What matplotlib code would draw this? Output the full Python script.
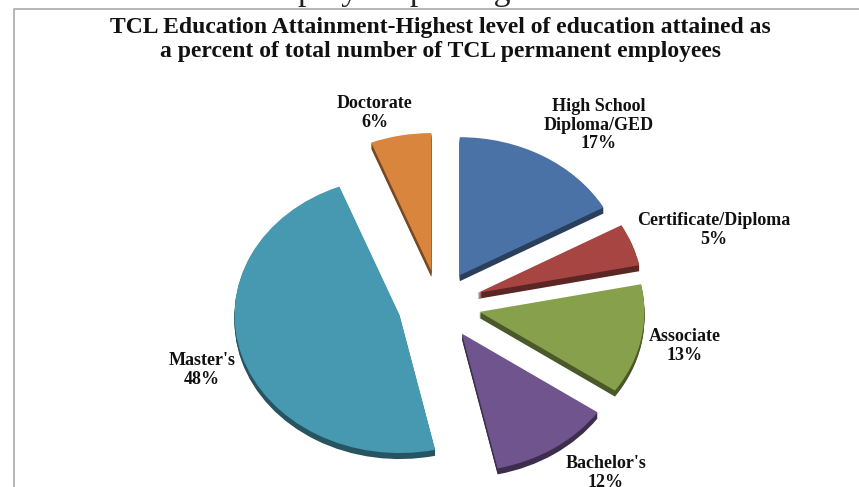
import numpy as np
import matplotlib
matplotlib.use('Agg')
import matplotlib.pyplot as plt
from matplotlib.colors import to_rgb

categories = ['High School\nDiploma/GED', 'Certificate/Diploma', 'Associate',
              "Bachelor's", "Master's", 'Doctorate']
percents = [17, 5, 13, 12, 48, 6]
face_colors = ['#4a72a6', '#a64542', '#87a04c', '#70548e', '#4798b1', '#d9853e']
title = ('TCL Education Attainment-Highest level of education attained as\n'
         'a percent of total number of TCL permanent employees')
header = 'and the number of employees per degree.'

W, H = 859, 487
CX, CY = 439, 305
RX, RY = 165, 138
EXPLODE = 0.25
DEPTH = 6

plt.rcParams['font.family'] = ['Liberation Serif', 'DejaVu Serif']

fig = plt.figure(figsize=(W / 100, H / 100), dpi=100)
ax = fig.add_axes([0, 0, 1, 1])


def shade(color, k):
    return tuple(c * k for c in to_rgb(color))


def draw_pie(offset, colors, z):
    wedges, _ = ax.pie(percents, explode=[EXPLODE] * len(percents), colors=colors,
                       startangle=90, counterclock=False, center=(0, offset),
                       wedgeprops={'linewidth': 0})
    for w in wedges:
        w.set_zorder(z)
    return wedges


# side walls first, stacked downward, then the top faces
for d in range(DEPTH, 0, -1):
    draw_pie(-d / RY, [shade(c, 0.55) for c in face_colors], 2)
tops = draw_pie(0, face_colors, 3)

# different scale in x and y, the pie ends up slightly flattened
ax.set_aspect('auto')
ax.set_xlim(-CX / RX, (W - CX) / RX)
ax.set_ylim(-(H - CY) / RY, CY / RY)
ax.axis('off')


def px(x, y):
    return (x - CX) / RX, (CY - y) / RY


label_pos = [(599, 125), (714, 230), (685, 346), (606, 473), (202, 370), (375, 113)]
for name, p, pos in zip(categories, percents, label_pos):
    ax.text(*px(*pos), f'{name}\n{p}%', ha='center', va='center', fontsize=13,
            fontweight='bold', color='#111111', linespacing=1.08, zorder=5)

ax.text(*px(440, 39.5), title, ha='center', va='center', fontsize=17,
        fontweight='bold', color='#111111', linespacing=1.23, zorder=5)

# running text from the page above the chart, cut off by the top edge
ax.text(*px(1, 0), header, ha='left', va='baseline', fontsize=24.4, color='#222222',
        zorder=5, clip_on=True)

# chart frame, open on the right and bottom
ax.plot(*zip(px(14, H), px(14, 9), px(W, 9)), color='#b0b0b0', lw=1.3, zorder=1)

fig.savefig('out.png', dpi=100)
